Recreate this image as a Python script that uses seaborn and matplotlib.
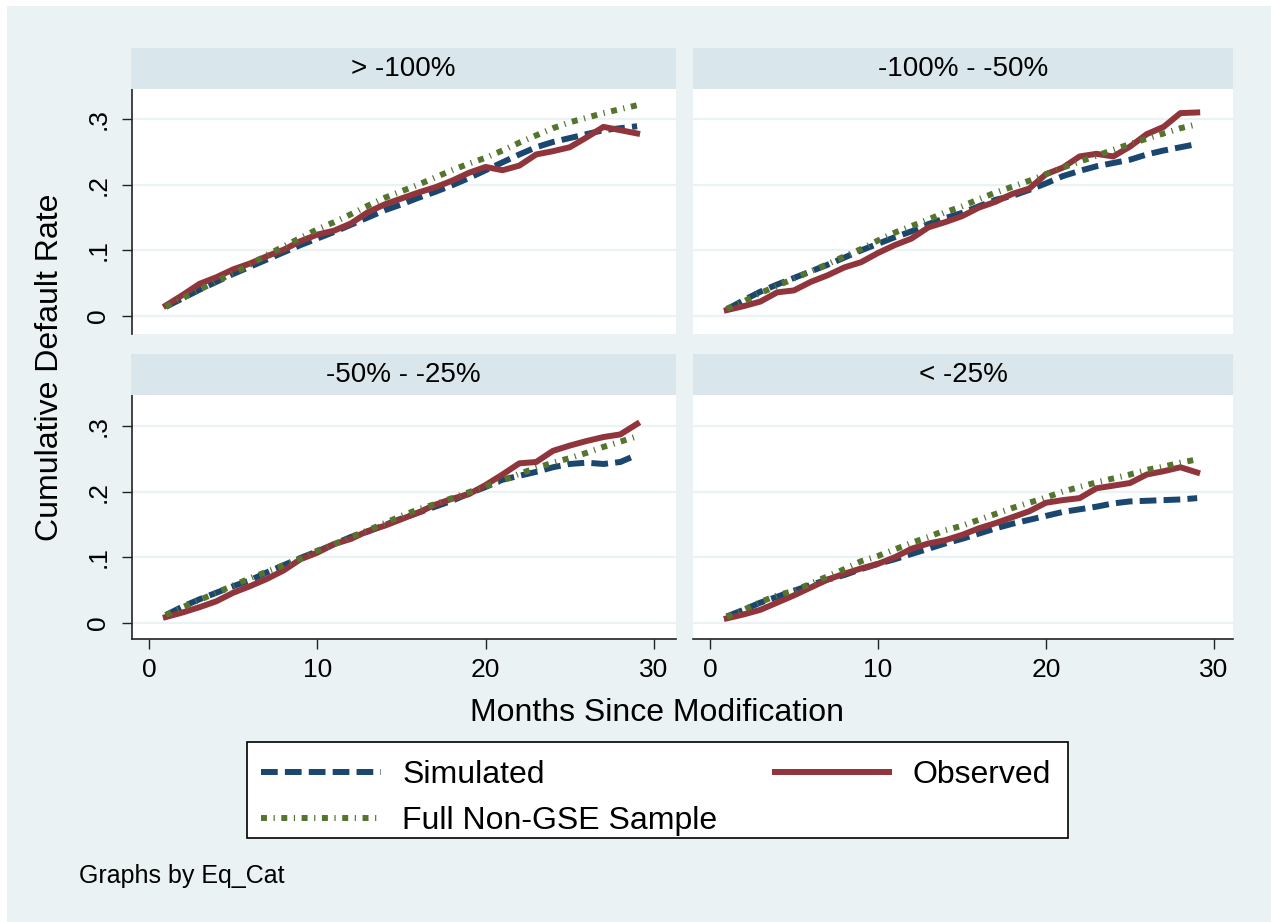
import matplotlib
matplotlib.use("Agg")
import matplotlib.pyplot as plt
from matplotlib.lines import Line2D
from matplotlib.patches import Rectangle
import pandas as pd
import seaborn as sns

plt.rcParams['font.family'] = ['Liberation Sans', 'DejaVu Sans']

# ---------------------------------------------------------------- data
months = list(range(1, 30))
panel_titles = ["> -100%", "-100% - -50%", "-50% - -25%", "< -25%"]
series_names = ["Simulated", "Observed", "Full Non-GSE Sample"]

# equity category > -100%
sim_gt100 = [.014, .027, .040, .052, .064, .075, .086, .097, .108, .118,
             .128, .139, .150, .161, .170, .180, .189, .199, .210, .222,
             .234, .246, .257, .265, .271, .277, .283, .286, .289]
obs_gt100 = [.016, .032, .049, .059, .071, .080, .091, .101, .114, .124,
             .130, .141, .158, .170, .179, .188, .196, .206, .218, .227,
             .222, .229, .246, .251, .257, .272, .288, .283, .278]
full_gt100 = [.014, .027, .040, .053, .065, .078, .093, .106, .119, .132,
              .143, .155, .168, .180, .190, .200, .211, .222, .232, .241,
              .252, .264, .275, .286, .295, .302, .309, .315, .321]

# equity category -100% to -50%
sim_100_50 = [.010, .024, .037, .048, .058, .068, .078, .089, .100, .110,
              .120, .129, .140, .149, .157, .167, .177, .183, .192, .202,
              .213, .221, .228, .233, .238, .246, .252, .257, .262]
obs_100_50 = [.009, .015, .022, .036, .039, .052, .062, .074, .082, .096,
              .108, .118, .135, .143, .152, .165, .174, .186, .194, .216,
              .226, .243, .247, .243, .258, .277, .288, .309, .310]
full_100_50 = [.011, .022, .035, .046, .057, .068, .079, .091, .102, .115,
               .127, .137, .147, .158, .167, .178, .188, .197, .206, .216,
               .226, .235, .244, .253, .262, .270, .278, .286, .292]

# equity category -50% to -25%
sim_50_25 = [.012, .025, .036, .046, .056, .065, .077, .088, .099, .109,
             .120, .131, .139, .149, .159, .168, .177, .186, .197, .207,
             .218, .224, .230, .237, .242, .244, .242, .245, .256]
obs_50_25 = [.009, .016, .024, .033, .046, .056, .067, .080, .097, .107,
             .120, .128, .140, .148, .158, .168, .180, .189, .196, .210,
             .226, .243, .245, .262, .270, .277, .283, .287, .303]
full_50_25 = [.012, .024, .035, .046, .057, .068, .078, .088, .098, .110,
              .120, .131, .141, .152, .163, .173, .181, .190, .199, .208,
              .217, .227, .236, .244, .251, .259, .268, .276, .284]

# equity category < -25%
sim_lt25 = [.010, .020, .031, .040, .049, .058, .066, .073, .082, .090,
            .097, .105, .113, .121, .128, .136, .144, .151, .157, .163,
            .169, .173, .177, .182, .185, .186, .187, .188, .190]
obs_lt25 = [.007, .013, .020, .031, .042, .054, .066, .075, .083, .090,
            .100, .113, .121, .126, .134, .144, .152, .161, .170, .183,
            .187, .190, .205, .209, .213, .226, .231, .237, .229]
full_lt25 = [.009, .020, .032, .042, .049, .060, .071, .082, .094, .102,
             .112, .122, .131, .141, .148, .157, .166, .175, .183, .191,
             .200, .207, .214, .220, .226, .233, .238, .244, .249]

panel_series = {
    panel_titles[0]: (sim_gt100, obs_gt100, full_gt100),
    panel_titles[1]: (sim_100_50, obs_100_50, full_100_50),
    panel_titles[2]: (sim_50_25, obs_50_25, full_50_25),
    panel_titles[3]: (sim_lt25, obs_lt25, full_lt25),
}

rows = []
for title, triple in panel_series.items():
    for name, vals in zip(series_names, triple):
        for m, v in zip(months, vals):
            rows.append({"panel": title, "series": name, "month": m, "rate": v})
df = pd.DataFrame(rows)

# ---------------------------------------------------------------- styling
BG = "#EAF2F3"
STRIP = "#D9E6EB"
colors = {"Simulated": "#1A476F", "Observed": "#90353B",
          "Full Non-GSE Sample": "#55752F"}
dashes = {"Simulated": (2.8, 1.2), "Observed": "",
          "Full Non-GSE Sample": (1.0, 1.1, 0.2, 1.1)}
LW = 4.3

W, H = 1271, 922
fig = plt.figure(figsize=(W / 100, H / 100), dpi=100, facecolor="white")
fig.add_artist(Rectangle((7 / W, 0), 1 - 7 / W, 1 - 6 / H,
                         transform=fig.transFigure, facecolor=BG,
                         edgecolor="none", zorder=-10))


def fbox(x0, y0, x1, y1):
    return [x0 / W, 1 - y1 / H, (x1 - x0) / W, (y1 - y0) / H]


col_px = [(132, 676), (693, 1233)]
row_px = [(89, 334), (395, 639)]
strip_px = [(48, 89), (354, 395)]
xlims = [(-1.01, 31.31), (-1.01, 31.13)]
ylims = [(-0.0274, 0.3457), (-0.0244, 0.347)]

for i, title in enumerate(panel_titles):
    r, c = divmod(i, 2)
    x0, x1 = col_px[c]
    y0, y1 = row_px[r]
    ax = fig.add_axes(fbox(x0, y0, x1, y1))
    ax.set_facecolor("white")

    sub = df[df["panel"] == title]
    sns.lineplot(data=sub, x="month", y="rate", hue="series", style="series",
                 hue_order=series_names, style_order=series_names,
                 palette=colors, dashes=dashes, linewidth=LW,
                 estimator=None, sort=False, legend=False, ax=ax)
    for ln in ax.get_lines():
        ln.set_solid_joinstyle("round")

    ax.set_xlim(*xlims[c])
    ax.set_ylim(*ylims[r])
    ax.set_xticks([0, 10, 20, 30])
    ax.set_yticks([0, .1, .2, .3])
    ax.yaxis.grid(True, color=BG, linewidth=1.6)
    ax.xaxis.grid(False)
    ax.set_axisbelow(True)
    ax.set_xlabel("")
    ax.set_ylabel("")
    for s in ax.spines.values():
        s.set_visible(False)

    if c == 0:
        ax.spines["left"].set_visible(True)
        ax.spines["left"].set_linewidth(1.2)
        ax.spines["left"].set_color("#222222")
        ax.set_yticklabels(["0", ".1", ".2", ".3"])
        ax.tick_params(axis="y", direction="out", length=7.5, width=1.0,
                       pad=8, labelsize=19, labelrotation=90,
                       color="#222222")
        for lab in ax.get_yticklabels():
            lab.set_va("center")
    else:
        ax.tick_params(axis="y", left=False, labelleft=False)

    if r == 1:
        ax.spines["bottom"].set_visible(True)
        ax.spines["bottom"].set_linewidth(1.2)
        ax.spines["bottom"].set_color("#222222")
        ax.tick_params(axis="x", direction="out", length=7.5, width=1.0,
                       pad=6, labelsize=19, color="#222222")
    else:
        ax.tick_params(axis="x", bottom=False, labelbottom=False)

    # panel header strip
    sx = fig.add_axes(fbox(x0 - (1 if c == 0 else 0), strip_px[r][0], x1,
                           strip_px[r][1]))
    sx.set_facecolor(STRIP)
    sx.set_xticks([])
    sx.set_yticks([])
    for s in sx.spines.values():
        s.set_visible(False)
    sx.text(0.5, 0.5, title, ha="center", va="center", fontsize=20,
            transform=sx.transAxes)

fig.text(50 / W, 1 - 367 / H, "Cumulative Default Rate", rotation=90,
         ha="center", va="center", fontsize=23)
fig.text(657 / W, 1 - 713 / H, "Months Since Modification",
         ha="center", va="center", fontsize=23)
fig.text(79 / W, 1 - 883 / H, "Graphs by Eq_Cat", ha="left",
         va="baseline", fontsize=18)

# legend: white box with black border, entries placed inside it
fig.add_artist(Rectangle((247 / W, 1 - 838 / H), (1068 - 247) / W, 96 / H,
                         transform=fig.transFigure, facecolor="white",
                         edgecolor="black", linewidth=1.2, zorder=1))
handles = [Line2D([], [], color=colors["Simulated"], linewidth=LW,
                  dashes=dashes["Simulated"]),
           Line2D([], [], color=colors["Observed"], linewidth=LW,
                  solid_capstyle="butt"),
           Line2D([], [], color=colors["Full Non-GSE Sample"], linewidth=LW,
                  dashes=dashes["Full Non-GSE Sample"])]
order = [0, 2, 1]
leg = fig.legend([handles[k] for k in order],
                 [series_names[k] for k in order],
                 ncol=2, loc="center",
                 bbox_to_anchor=(656 / W, 1 - 798 / H),
                 fontsize=23, handlelength=3.76, handletextpad=0.66,
                 columnspacing=1.7, borderpad=0.35, labelspacing=0.5,
                 frameon=False)
leg.set_zorder(2)

fig.savefig("out.png", dpi=100, facecolor="white")
